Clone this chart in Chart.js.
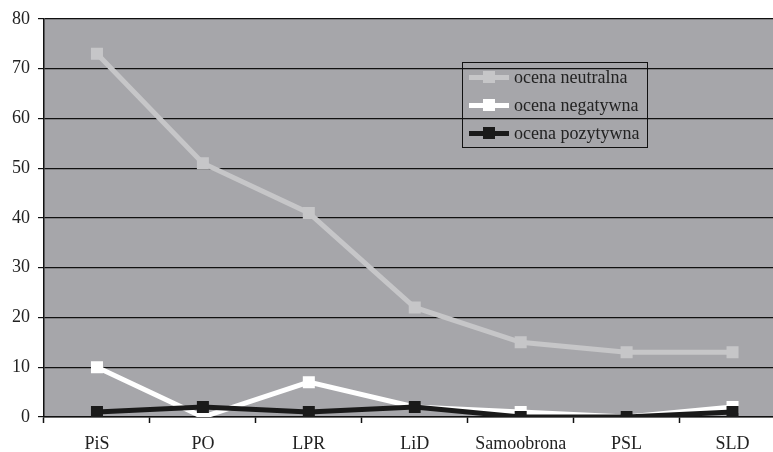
<!DOCTYPE html>
<html>
<head>
<meta charset="utf-8">
<script src="https://cdn.jsdelivr.net/npm/chart.js@4/dist/chart.umd.min.js"></script>
<style>
  html, body { margin: 0; padding: 0; background: #fff; overflow: hidden; }
  #wrap { position: relative; width: 794px; height: 452px; }
  #legend {
    position: absolute; left: 462px; top: 62px; width: 186px; height: 86px;
    border: 1.5px solid #111; box-sizing: border-box;
    font-family: "Liberation Serif", "Times New Roman", serif; font-size: 18px; color: #222;
  }
  .item { position: absolute; left: 6px; height: 22px; display: flex; align-items: center; white-space: nowrap; }
  .sample { position: relative; width: 40px; height: 5px; margin-right: 5px; }
  .sample span { position: absolute; left: 14px; top: -4px; width: 12px; height: 12px; }
</style>
</head>
<body>
<div id="wrap">
  <canvas id="chart" width="794" height="452"></canvas>
  <div id="legend"></div>
</div>
<script>
// Dane
const partie = ['PiS', 'PO', 'LPR', 'LiD', 'Samoobrona', 'PSL', 'SLD'];
const neutralna = [73, 51, 41, 22, 15, 13, 13];
const negatywna = [10, 0, 7, 2, 1, 0, 2];
const pozytywna = [1, 2, 1, 2, 0, 0, 1];
const yTicks = [0, 10, 20, 30, 40, 50, 60, 70, 80];

const serie = [
    { label: 'ocena neutralna', data: neutralna, color: '#c6c6c8', order: 2 },
    { label: 'ocena negatywna', data: negatywna, color: '#ffffff', order: 1 },
    { label: 'ocena pozytywna', data: pozytywna, color: '#1a1a1a', order: 0 }
];

const font = { family: '"Liberation Serif", "Times New Roman", serif', size: 18 };

// tło obszaru wykresu
const plotBg = {
    id: 'plotBg',
    beforeDraw(chart) {
        const { ctx, chartArea: a } = chart;
        ctx.save();
        ctx.fillStyle = '#a6a6aa';
        ctx.fillRect(a.left, a.top, a.right - a.left, a.bottom - a.top);
        ctx.restore();
    }
};

const ctx = document.getElementById('chart').getContext('2d');
const chart = new Chart(ctx, {
    type: 'line',
    data: {
        labels: partie,
        datasets: serie.map(s => ({
            label: s.label,
            data: s.data,
            order: s.order,
            borderColor: s.color,
            backgroundColor: s.color,
            borderWidth: 5,
            pointStyle: 'rect',
            pointRadius: 8.5,
            pointBorderWidth: 0,
            fill: false,
            tension: 0
        }))
    },
    options: {
        responsive: false,
        animation: false,
        layout: { padding: { top: 18, right: 0, bottom: 0, left: 0 } },
        plugins: { legend: { display: false }, tooltip: { enabled: false } },
        scales: {
            x: {
                offset: true,
                afterFit: axis => { axis.height = 35; },
                grid: { display: true, drawOnChartArea: false, offset: true, color: '#111', tickLength: 6, tickWidth: 1.5 },
                border: { color: '#111', width: 1.5 },
                ticks: { color: '#222', padding: 10, font: font }
            },
            y: {
                min: 0, max: 80,
                afterBuildTicks: axis => { axis.ticks = yTicks.map(v => ({ value: v })); },
                afterFit: axis => { axis.width = 44; },
                grid: { color: '#111', lineWidth: 1.2, tickLength: 6 },
                border: { color: '#111', width: 1.5 },
                ticks: { color: '#222', padding: 8, font: font }
            }
        }
    },
    plugins: [plotBg]
});

// legenda
const legend = document.getElementById('legend');
serie.forEach((s, i) => {
    const it = document.createElement('div');
    it.className = 'item';
    it.style.top = (3 + i * 28) + 'px';
    it.innerHTML = `<div class="sample" style="background:${s.color}"><span style="background:${s.color}"></span></div>${s.label}`;
    legend.appendChild(it);
});
</script>
</body>
</html>
